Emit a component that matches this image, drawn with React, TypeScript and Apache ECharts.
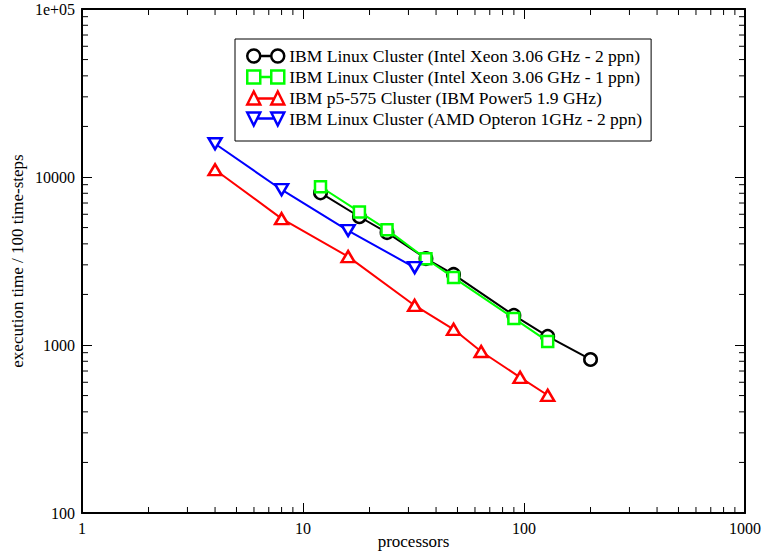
import React, { useEffect, useRef } from "react";
import * as echarts from "echarts";

// ---- data ----
const seriesNames = [
  "IBM Linux Cluster (Intel Xeon 3.06 GHz - 2 ppn)",
  "IBM Linux Cluster (Intel Xeon 3.06 GHz - 1 ppn)",
  "IBM p5-575 Cluster (IBM Power5 1.9 GHz)",
  "IBM Linux Cluster (AMD Opteron 1GHz - 2 ppn)",
];
const xeon2Procs = [12, 18, 24, 36, 48, 90, 128, 200];
const xeon2Times = [8050, 5800, 4670, 3270, 2630, 1500, 1125, 820];
const xeon1Procs = [12, 18, 24, 36, 48, 90, 128];
const xeon1Times = [8750, 6200, 4860, 3260, 2520, 1440, 1050];
const p5Procs = [4, 8, 16, 32, 48, 64, 96, 128];
const p5Times = [11050, 5650, 3360, 1720, 1240, 915, 642, 502];
const amdProcs = [4, 8, 16, 32];
const amdTimes = [15770, 8400, 4800, 2890];

const xMajorTicks = [1, 10, 100, 1000];
const xMinorTicks = [2, 3, 4, 5, 6, 7, 8, 9, 20, 30, 40, 50, 60, 70, 80, 90, 200, 300, 400, 500, 600, 700, 800, 900];
const yMajorTicks = [100, 1000, 10000, 100000];
const yMinorTicks = [200, 300, 400, 500, 600, 700, 800, 900, 2000, 3000, 4000, 5000, 6000, 7000, 8000, 9000, 20000, 30000, 40000, 50000, 60000, 70000, 80000, 90000];

const X_MIN = 1, X_MAX = 1000, Y_MIN = 100, Y_MAX = 100000;

const colors = ["#000000", "#00ff00", "#ff0000", "#0000ff"];

const legendIcons = [
  "path://M0,6.5 A6.5,6.5 0 1,1 13,6.5 A6.5,6.5 0 1,1 0,6.5 Z M13,6.5 L24,6.5 M24,6.5 A6.5,6.5 0 1,1 37,6.5 A6.5,6.5 0 1,1 24,6.5 Z",
  "path://M0,0 L13,0 L13,13 L0,13 Z M13,6.5 L24,6.5 M24,0 L37,0 L37,13 L24,13 Z",
  "path://M0,13 L6.5,0 L13,13 Z M10,7 L27,7 M24,13 L30.5,0 L37,13 Z",
  "path://M0,0 L13,0 L6.5,13 Z M10,6 L27,6 M24,0 L37,0 L30.5,13 Z",
];

const FONT = "Liberation Serif";

function fmtLabel(v: number) {
  const r = Math.round(v);
  if (r >= 100000) return "1e+05";
  return String(r);
}

function makeAxis(
  dim: "x" | "y",
  position: string,
  ticks: number[],
  showLabel: boolean,
  name?: string
) {
  const isX = dim === "x";
  return {
    type: "log",
    logBase: 10,
    min: isX ? X_MIN : Y_MIN,
    max: isX ? X_MAX : Y_MAX,
    position,
    name: name || "",
    nameLocation: "middle",
    nameGap: isX ? 20 : 56,
    nameMoveOverlap: false,
    nameTextStyle: { fontFamily: FONT, fontSize: 17, color: "#000" },
    axisLine: { show: true, onZero: false, lineStyle: { color: "#000", width: 2 } },
    axisTick: {
      show: true,
      inside: true,
      length: 10,
      lineStyle: { color: "#000", width: 1 },
    },
    minorTick: { show: false },
    axisLabel: {
      show: showLabel,
      customValues: showLabel ? ticks : undefined,
      formatter: (v: number) => fmtLabel(v),
      fontFamily: FONT,
      fontSize: 16,
      color: "#000",
      margin: 7,
      showMinLabel: true,
      showMaxLabel: true,
      hideOverlap: false,
    },
    splitLine: { show: false },
    minorSplitLine: { show: false },
  };
}

export default function App() {
  const ref = useRef<HTMLDivElement>(null);
  useEffect(() => {
    if (!ref.current) return;
    const chart = echarts.init(ref.current, null, { renderer: "svg" });

    const datasets = [
      [xeon2Procs, xeon2Times],
      [xeon1Procs, xeon1Times],
      [p5Procs, p5Times],
      [amdProcs, amdTimes],
    ];
    const symbols = ["circle", "rect", "triangle", "triangle"];
    const sizes: any[] = [12.5, 11, [13, 11], [13, 11]];
    const rotates = [0, 0, 0, 180];

    const series: any[] = datasets.map(([xs, ys], i) => ({
      name: seriesNames[i],
      type: "line",
      xAxisIndex: 0,
      yAxisIndex: 0,
      data: xs.map((x, j) => [x, ys[j]]),
      symbol: symbols[i],
      symbolSize: sizes[i],
      symbolRotate: rotates[i],
      showAllSymbol: true,
      lineStyle: { color: colors[i], width: 2 },
      itemStyle: { color: "#ffffff", borderColor: colors[i], borderWidth: 2.5 },
      emphasis: { disabled: true },
      z: 2 + i,
    }));

    // minor ticks on all four sides, positioned through the axes' scales
    const tickData: number[][] = [
      ...xMinorTicks.map((v) => [v, Y_MIN, 0]),
      ...yMinorTicks.map((v) => [X_MIN, v, 1]),
    ];
    series.push({
      name: "minorTicks",
      type: "custom",
      xAxisIndex: 0,
      yAxisIndex: 0,
      silent: true,
      clip: false,
      z: 1,
      data: tickData,
      renderItem: (params: any, api: any) => {
        const a = api.value(0);
        const b = api.value(1);
        const kind = api.value(2);
        const st = { stroke: "#000", lineWidth: 1 };
        const L = 6;
        if (kind === 0) {
          const pb = api.coord([a, Y_MIN]);
          const pt = api.coord([a, Y_MAX]);
          return {
            type: "group",
            children: [
              { type: "line", shape: { x1: pb[0], y1: pb[1], x2: pb[0], y2: pb[1] - L }, style: st },
              { type: "line", shape: { x1: pt[0], y1: pt[1], x2: pt[0], y2: pt[1] + L }, style: st },
            ],
          };
        }
        const pl = api.coord([X_MIN, b]);
        const pr = api.coord([X_MAX, b]);
        return {
          type: "group",
          children: [
            { type: "line", shape: { x1: pl[0], y1: pl[1], x2: pl[0] + L, y2: pl[1] }, style: st },
            { type: "line", shape: { x1: pr[0], y1: pr[1], x2: pr[0] - L, y2: pr[1] }, style: st },
          ],
        };
      },
    });

    chart.setOption({
      animation: false,
      backgroundColor: "#ffffff",
      grid: { left: 82, right: 19, top: 9, bottom: 41, containLabel: false, outerBoundsMode: "none" },
      xAxis: [
        makeAxis("x", "bottom", xMajorTicks, true, "processors"),
        makeAxis("x", "top", xMajorTicks, false),
      ],
      yAxis: [
        makeAxis("y", "left", yMajorTicks, true, "execution time / 100 time-steps"),
        makeAxis("y", "right", yMajorTicks, false),
      ],
      legend: {
        orient: "vertical",
        left: 235,
        top: 39,
        padding: [8, 9, 13, 11],
        itemGap: 3,
        itemWidth: 37,
        itemHeight: 13,
        backgroundColor: "#ffffff",
        borderColor: "#000",
        borderWidth: 1,
        borderRadius: 0,
        selectedMode: false,
        textStyle: { fontFamily: FONT, fontSize: 17.5, color: "#000" },
        data: seriesNames.map((n, i) => ({
          name: n,
          icon: legendIcons[i],
          itemStyle: { color: "rgba(0,0,0,0)", borderColor: colors[i], borderWidth: 2.5 },
        })),
      },
      series,
    });
    return () => chart.dispose();
  }, []);
  return <div ref={ref} style={{ width: 764, height: 554, position: "absolute", left: 0, top: 0 }} />;
}
